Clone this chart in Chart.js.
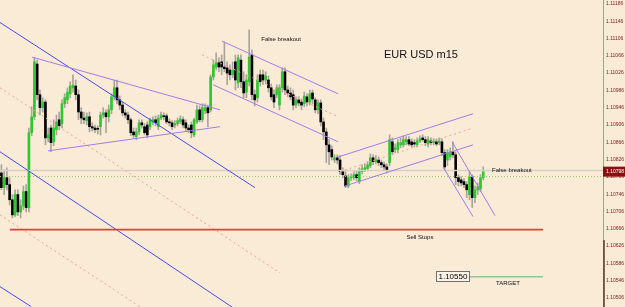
<!DOCTYPE html>
<html><head><meta charset="utf-8">
<script src="https://cdn.jsdelivr.net/npm/chart.js@4/dist/chart.umd.min.js"></script>
<style>html,body{margin:0;padding:0;background:#FAEBD7;overflow:hidden}#wrap{width:625px;height:307px}</style>
</head><body><div id="wrap"><canvas id="c" width="625" height="307"></canvas></div>
<script>
// ---- candle data (EUR/USD m15) ----
const opens=[
1.10795,1.10761,1.10784,1.10768,1.10733,1.10698,1.10745,1.10705,1.10719,1.10752,
1.10715,1.10888,1.10925,1.11047,1.10976,1.10946,1.10959,1.10876,1.10899,1.10867,
1.10895,1.10918,1.10909,1.10955,1.10964,1.10978,1.10992,1.10996,1.10976,1.10936,
1.10922,1.10916,1.10925,1.10902,1.10899,1.10897,1.10902,1.10929,1.10934,1.10925,
1.10941,1.10971,1.10992,1.10964,1.10952,1.10934,1.10929,1.10918,1.10890,1.10879,
1.10890,1.10911,1.10902,1.10906,1.10902,1.10913,1.10918,1.10902,1.10922,1.10927,
1.10927,1.10913,1.10911,1.10906,1.10909,1.10913,1.10918,1.10911,1.10899,1.10906,
1.10883,1.10913,1.10941,1.10918,1.10939,1.10946,1.10941,1.11017,1.11040,1.11050,
1.11052,1.11040,1.11038,1.11033,1.11022,1.11052,1.11003,1.11056,1.11006,1.10982,
1.11006,1.11068,1.10976,1.10969,1.11022,1.11022,1.11010,1.11010,1.10992,1.10976,
1.10976,1.10952,1.10992,1.11029,1.10987,1.10980,1.10976,1.10952,1.10964,1.10959,
1.10955,1.10971,1.10959,1.10980,1.10964,1.10941,1.10957,1.10913,1.10890,1.10860,
1.10849,1.10825,1.10830,1.10825,1.10798,1.10788,1.10765,1.10784,1.10784,1.10791,
1.10775,1.10798,1.10802,1.10805,1.10812,1.10830,1.10821,1.10825,1.10819,1.10814,
1.10809,1.10819,1.10867,1.10849,1.10849,1.10860,1.10860,1.10867,1.10872,1.10867,
1.10865,1.10860,1.10869,1.10876,1.10872,1.10862,1.10869,1.10865,1.10867,1.10865,
1.10867,1.10842,1.10825,1.10832,1.10844,1.10837,1.10784,1.10779,1.10775,1.10768,
1.10745,1.10786,1.10738,1.10756,1.10758,1.10784];
const highs=[
1.10814,1.10802,1.10807,1.10784,1.10745,1.10756,1.10756,1.10733,1.10765,1.10768,
1.10899,1.10948,1.11061,1.11056,1.10987,1.10969,1.10964,1.10899,1.10906,1.10918,
1.10929,1.10936,1.10964,1.10978,1.10992,1.11006,1.11022,1.11010,1.10987,1.10946,
1.10936,1.10934,1.10936,1.10911,1.10906,1.10904,1.10936,1.10946,1.10941,1.10952,
1.10978,1.11010,1.11010,1.10973,1.10959,1.10941,1.10936,1.10922,1.10899,1.10899,
1.10918,1.10918,1.10909,1.10913,1.10922,1.10925,1.10927,1.10929,1.10936,1.10934,
1.10932,1.10920,1.10916,1.10916,1.10922,1.10927,1.10925,1.10918,1.10906,1.10913,
1.10922,1.10952,1.10950,1.10955,1.10955,1.10952,1.11022,1.11056,1.11073,1.11061,
1.11068,1.11098,1.11052,1.11045,1.11052,1.11068,1.11068,1.11068,1.11029,1.11022,
1.11126,1.11080,1.10987,1.11022,1.11033,1.11033,1.11029,1.11019,1.11001,1.10987,
1.10999,1.10999,1.11038,1.11038,1.10996,1.10992,1.10987,1.10971,1.10971,1.10966,
1.10982,1.10978,1.10987,1.10987,1.10969,1.10964,1.10964,1.10922,1.10899,1.10872,
1.10858,1.10837,1.10837,1.10835,1.10807,1.10798,1.10791,1.10793,1.10798,1.10800,
1.10807,1.10814,1.10816,1.10821,1.10839,1.10837,1.10835,1.10832,1.10825,1.10821,
1.10816,1.10883,1.10876,1.10862,1.10872,1.10876,1.10881,1.10879,1.10879,1.10874,
1.10872,1.10876,1.10881,1.10883,1.10879,1.10879,1.10876,1.10874,1.10874,1.10876,
1.10874,1.10849,1.10849,1.10853,1.10867,1.10844,1.10791,1.10786,1.10782,1.10775,
1.10798,1.10791,1.10765,1.10772,1.10791,1.10809];
const lows=[
1.10756,1.10745,1.10756,1.10721,1.10691,1.10694,1.10696,1.10691,1.10710,1.10705,
1.10705,1.10881,1.10918,1.10964,1.10929,1.10936,1.10860,1.10867,1.10844,1.10858,
1.10883,1.10895,1.10899,1.10946,1.10955,1.10969,1.10982,1.10964,1.10918,1.10909,
1.10909,1.10906,1.10890,1.10892,1.10888,1.10885,1.10883,1.10922,1.10888,1.10913,
1.10932,1.10964,1.10955,1.10941,1.10927,1.10922,1.10909,1.10881,1.10876,1.10872,
1.10883,1.10899,1.10883,1.10876,1.10895,1.10906,1.10904,1.10895,1.10918,1.10918,
1.10909,1.10904,1.10895,1.10899,1.10904,1.10909,1.10899,1.10892,1.10888,1.10876,
1.10879,1.10909,1.10913,1.10913,1.10932,1.10902,1.10936,1.11010,1.11033,1.11029,
1.11022,1.11029,1.10999,1.11010,1.11015,1.10987,1.10992,1.10992,1.10969,1.10969,
1.10996,1.10964,1.10950,1.10959,1.10996,1.10999,1.11001,1.10982,1.10964,1.10946,
1.10969,1.10941,1.10982,1.10976,1.10971,1.10964,1.10941,1.10946,1.10950,1.10941,
1.10948,1.10950,1.10952,1.10955,1.10934,1.10932,1.10904,1.10872,1.10819,1.10814,
1.10825,1.10819,1.10816,1.10791,1.10784,1.10761,1.10761,1.10777,1.10779,1.10777,
1.10770,1.10793,1.10798,1.10800,1.10807,1.10814,1.10816,1.10812,1.10807,1.10802,
1.10795,1.10812,1.10837,1.10842,1.10842,1.10853,1.10855,1.10860,1.10858,1.10855,
1.10855,1.10855,1.10865,1.10867,1.10858,1.10855,1.10860,1.10860,1.10858,1.10860,
1.10835,1.10802,1.10812,1.10825,1.10830,1.10768,1.10765,1.10765,1.10761,1.10738,
1.10733,1.10715,1.10726,1.10745,1.10752,1.10779];
const closes=[
1.10761,1.10784,1.10768,1.10733,1.10698,1.10745,1.10705,1.10719,1.10752,1.10715,
1.10888,1.10925,1.11052,1.10976,1.10946,1.10959,1.10876,1.10883,1.10865,1.10899,
1.10913,1.10904,1.10955,1.10969,1.10982,1.10996,1.10998,1.10976,1.10936,1.10922,
1.10918,1.10925,1.10902,1.10899,1.10895,1.10896,1.10929,1.10934,1.10925,1.10941,
1.10971,1.10992,1.10964,1.10952,1.10934,1.10929,1.10918,1.10888,1.10883,1.10890,
1.10911,1.10906,1.10888,1.10883,1.10918,1.10918,1.10911,1.10922,1.10929,1.10925,
1.10913,1.10911,1.10902,1.10909,1.10916,1.10920,1.10906,1.10899,1.10895,1.10888,
1.10918,1.10941,1.10918,1.10946,1.10946,1.10934,1.11017,1.11045,1.11050,1.11040,
1.11040,1.11036,1.11026,1.11022,1.11033,1.11010,1.11061,1.11006,1.10980,1.11010,
1.11063,1.10976,1.10964,1.11010,1.11006,1.11010,1.11019,1.10992,1.10971,1.10959,
1.10992,1.10992,1.11029,1.10987,1.10980,1.10971,1.10952,1.10964,1.10957,1.10952,
1.10973,1.10959,1.10978,1.10966,1.10941,1.10957,1.10913,1.10890,1.10860,1.10844,
1.10832,1.10830,1.10825,1.10798,1.10791,1.10765,1.10784,1.10786,1.10791,1.10784,
1.10798,1.10805,1.10807,1.10814,1.10830,1.10821,1.10825,1.10819,1.10814,1.10809,
1.10802,1.10872,1.10844,1.10853,1.10865,1.10865,1.10872,1.10872,1.10862,1.10860,
1.10862,1.10869,1.10874,1.10872,1.10865,1.10872,1.10865,1.10867,1.10862,1.10869,
1.10842,1.10809,1.10842,1.10844,1.10837,1.10784,1.10775,1.10772,1.10768,1.10756,
1.10786,1.10738,1.10756,1.10763,1.10784,1.10798];

// ---- axis / scale values ----
const slotCount=219;
const yMin=1.10485, yMax=1.11195;
const yTicks=[1.11186,1.11146,1.11106,1.11066,1.11026,1.10986,1.10946,1.10906,1.10866,1.10826,1.10786,1.10746,1.10706,1.10666,1.10626,1.10586,1.10546,1.10506];
const lastPrice=1.10798;
const bidLine=1.10802, askLine=1.10788;

// ---- drawn objects (bar index, price) ----
const blueLines=[[-0.5,1.11143,92.1,1.10761],[-0.5,1.10844,85.6,1.10477],[-0.5,1.10532,10.8,1.10486]];
const pinkDashed=[[-0.5,1.10992,101.2,1.10564],[-0.5,1.10698,50.5,1.10485],[72.9,1.11068,122.3,1.10925],[123,1.10798,171.3,1.10899]];
const purpleLines=[[11.1,1.11063,79.4,1.10941],[16.9,1.10846,79.4,1.10902],[80.1,1.11100,122.3,1.10978],[76.9,1.10999,122.3,1.10867],
 [122.3,1.10832,171.3,1.10932],[124.8,1.10765,171.3,1.10860],[163.7,1.10867,179.3,1.10696],[160.4,1.10809,171.3,1.10694]];
const sellStops=[3.1,196.7,1.10664];
const target=[170.2,196.7,1.10555];
const texts=[
 {t:'False breakout',x:101.6,p:1.11103,size:6,align:'center'},
 {t:'EUR USD m15',x:152.4,p:1.11068,size:11,align:'center'},
 {t:'False breakout',x:178.2,p:1.10802,size:6,align:'left'},
 {t:'Sell Stops',x:152,p:1.10645,size:6,align:'center'},
 {t:'TARGET',x:184,p:1.10539,size:6,align:'center'}];
const targetBox={t:'1.10550',x:164,p:1.10557};

const labels=Array.from({length:slotCount},(_,i)=>String(i));
const bull='#2ec82e', bear='#000000', wick='#a8a49c';

const overlay={id:'overlay',
 afterDatasetsDraw(chart){
  const {ctx,chartArea:a,scales:{x,y}}=chart;
  const X=v=>x.getPixelForValue(v), Y=v=>y.getPixelForValue(v);
  ctx.save();
  ctx.beginPath();ctx.rect(a.left,a.top,a.right-a.left,a.bottom-a.top);ctx.clip();
  const seg=(s,c,w,d)=>{ctx.strokeStyle=c;ctx.lineWidth=w;ctx.setLineDash(d||[]);ctx.beginPath();ctx.moveTo(X(s[0]),Y(s[1]));ctx.lineTo(X(s[2]),Y(s[3]));ctx.stroke();};
  // bid / ask
  ctx.strokeStyle='#d8d0c6';ctx.lineWidth=1.5;ctx.setLineDash([]);
  ctx.beginPath();ctx.moveTo(a.left,Math.round(Y(bidLine))+0.5);ctx.lineTo(a.right,Math.round(Y(bidLine))+0.5);ctx.stroke();
  ctx.strokeStyle='#9cc86c';ctx.lineWidth=1;ctx.setLineDash([1,2]);
  ctx.beginPath();ctx.moveTo(a.left,Math.round(Y(askLine))+0.5);ctx.lineTo(a.right,Math.round(Y(askLine))+0.5);ctx.stroke();
  blueLines.forEach(s=>seg(s,'#4a4ae6',1));
  pinkDashed.forEach(s=>seg(s,'#f2a090',1,[2,3]));
  purpleLines.forEach(s=>seg(s,'#a47be6',1));
  seg([sellStops[0],sellStops[2],sellStops[1],sellStops[2]],'#f03a3a',1.6);
  seg([target[0],target[2],target[1],target[2]],'#94c494',1.6);
  ctx.setLineDash([]);
  ctx.fillStyle='#111';ctx.textBaseline='middle';
  texts.forEach(o=>{ctx.font=o.size+'px "Liberation Sans", Arial, sans-serif';ctx.textAlign=o.align;ctx.fillText(o.t,X(o.x),Y(o.p));});
  ctx.font='8px "Liberation Sans", Arial, sans-serif';ctx.textAlign='center';
  const bw=ctx.measureText(targetBox.t).width+4, bx=X(targetBox.x), by=Y(targetBox.p);
  ctx.fillStyle='#fbf3e8';ctx.fillRect(bx-bw/2,by-5,bw,10);
  ctx.strokeStyle='#707070';ctx.lineWidth=1;ctx.strokeRect(Math.round(bx-bw/2)+0.5,Math.round(by-5)+0.5,Math.round(bw),10);
  ctx.fillStyle='#000';ctx.fillText(targetBox.t,bx,by+0.5);
  ctx.restore();
 },
 afterDraw(chart){
  const {ctx,chartArea:a,scales:{y}}=chart;
  const py=y.getPixelForValue(lastPrice);
  ctx.save();
  ctx.fillStyle='#8a1010';ctx.fillRect(a.right,py-5,chart.width-a.right,10);
  ctx.fillStyle='#ffffff';ctx.font='5px "Liberation Sans", Arial, sans-serif';ctx.textBaseline='middle';ctx.textAlign='left';
  ctx.fillText(lastPrice.toFixed(5),a.right+3,py);
  ctx.strokeStyle='#5a3a2e';ctx.lineWidth=1.5;
  ctx.beginPath();ctx.moveTo(a.right+1,y.getPixelForValue(1.10640));ctx.lineTo(a.right+1,a.bottom);ctx.stroke();
  ctx.restore();
 }};

new Chart(document.getElementById('c'),{
 type:'bar',
 data:{labels,datasets:[
  {label:'wick',data:lows.map((l,i)=>[l,highs[i]]),backgroundColor:wick,barThickness:1,grouped:false,order:2},
  {label:'body',data:opens.map((o,i)=>[o,closes[i]]),backgroundColor:opens.map((o,i)=>closes[i]>o?bull:bear),barThickness:2,grouped:false,order:1,minBarLength:1}
 ]},
 options:{responsive:false,animation:false,devicePixelRatio:1,
  layout:{padding:0},
  plugins:{legend:{display:false},tooltip:{enabled:false}},
  scales:{
   x:{display:false,grid:{display:false}},
   y:{position:'right',min:yMin,max:yMax,
      grid:{display:false,drawTicks:false},
      border:{display:true,color:'#c49484'},
      ticks:{autoSkip:false,padding:3,color:'#7a1a1a',font:{family:'"Liberation Sans", Arial, sans-serif',size:5},callback:v=>Number(v).toFixed(5)},
      afterBuildTicks:s=>{s.ticks=yTicks.map(v=>({value:v}));},
      afterFit:s=>{s.width=22;s.paddingTop=0;s.paddingBottom=0;}
   }
  }
 },
 plugins:[overlay]
});
</script></body></html>
